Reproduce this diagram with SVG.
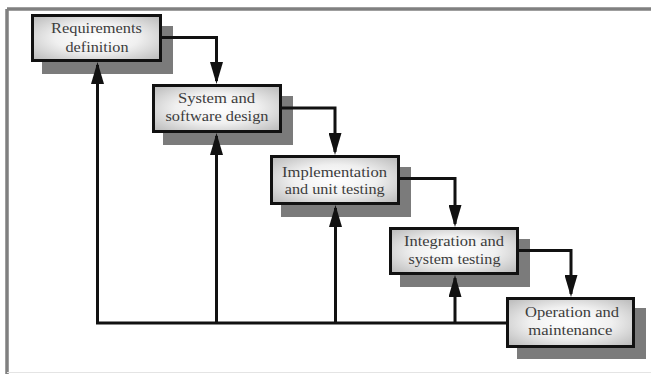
<svg xmlns="http://www.w3.org/2000/svg" width="651" height="374" viewBox="0 0 651 374">
  <style>
    .frame { fill: none; stroke: #808080; stroke-width: 3.5; }
    .base { fill: none; stroke: #e4e4e4; stroke-width: 1; }
    .shadow { fill: #7b7b7b; }
    .box { fill: url(#boxFill); stroke: #111; stroke-width: 3; }
    .label { font-family: "Liberation Serif", "Times New Roman", serif; font-size: 14px; fill: #3c3c3c; text-anchor: middle; }
    .flow { fill: none; stroke: #111; stroke-width: 3; stroke-linejoin: miter; marker-end: url(#arrow); }
  </style>
  <defs>
    <radialGradient id="boxFill" cx="0.5" cy="0.5" r="0.72">
      <stop offset="0" stop-color="#ffffff"/>
      <stop offset="0.45" stop-color="#f0f0f0"/>
      <stop offset="1" stop-color="#b5b5b5"/>
    </radialGradient>
    <marker id="arrow" markerUnits="userSpaceOnUse" markerWidth="22" markerHeight="13" refX="19" refY="6.5" orient="auto">
      <path d="M0,0 L22,6.5 L0,13 z" fill="#111"/>
    </marker>
  </defs>

  <!-- page frame -->
  <path class="frame" d="M7,9 H651 M7,9 V374"/>
  <path class="base" d="M7,372.5 H651"/>

  <!-- process steps -->
  <g id="requirements">
    <rect class="shadow" x="42" y="26" width="131" height="48"/>
    <rect class="box" x="32.5" y="15.5" width="128" height="45"/>
    <text class="label" x="96.5" y="33" textLength="91" lengthAdjust="spacingAndGlyphs">Requirements</text>
    <text class="label" x="97" y="52" textLength="63" lengthAdjust="spacingAndGlyphs">definition</text>
  </g>
  <g id="design">
    <rect class="shadow" x="163" y="96" width="130" height="49"/>
    <rect class="box" x="153.5" y="85.5" width="127" height="46"/>
    <text class="label" x="216.5" y="103" textLength="77" lengthAdjust="spacingAndGlyphs">System and</text>
    <text class="label" x="217" y="121" textLength="103" lengthAdjust="spacingAndGlyphs">software design</text>
  </g>
  <g id="implementation">
    <rect class="shadow" x="281" y="167" width="130" height="50"/>
    <rect class="box" x="271.5" y="156.5" width="127" height="47"/>
    <text class="label" x="334.5" y="177" textLength="105" lengthAdjust="spacingAndGlyphs">Implementation</text>
    <text class="label" x="334.7" y="194" textLength="100" lengthAdjust="spacingAndGlyphs">and unit testing</text>
  </g>
  <g id="integration">
    <rect class="shadow" x="400" y="239" width="130" height="48"/>
    <rect class="box" x="390.5" y="228.5" width="127" height="45"/>
    <text class="label" x="454" y="246" textLength="100" lengthAdjust="spacingAndGlyphs">Integration and</text>
    <text class="label" x="454.5" y="264" textLength="92" lengthAdjust="spacingAndGlyphs">system testing</text>
  </g>
  <g id="operation">
    <rect class="shadow" x="517" y="308" width="129" height="51"/>
    <rect class="box" x="507.5" y="298.5" width="126" height="48"/>
    <text class="label" x="572" y="317" textLength="94" lengthAdjust="spacingAndGlyphs">Operation and</text>
    <text class="label" x="570.3" y="335" textLength="84" lengthAdjust="spacingAndGlyphs">maintenance</text>
  </g>

  <!-- connectors -->
  <g id="connectors">
    <path class="flow" d="M162,37.5 H216.5 V81"/>
    <path class="flow" d="M282,108 H335 V152"/>
    <path class="flow" d="M400,178.5 H455 V224"/>
    <path class="flow" d="M519,250.5 H571 V294"/>
    <path class="flow" d="M506,323 H97.5 V65"/>
    <path class="flow" d="M216.5,323 V136"/>
    <path class="flow" d="M335.5,323 V208"/>
    <path class="flow" d="M455,323 V278"/>
  </g>
</svg>
